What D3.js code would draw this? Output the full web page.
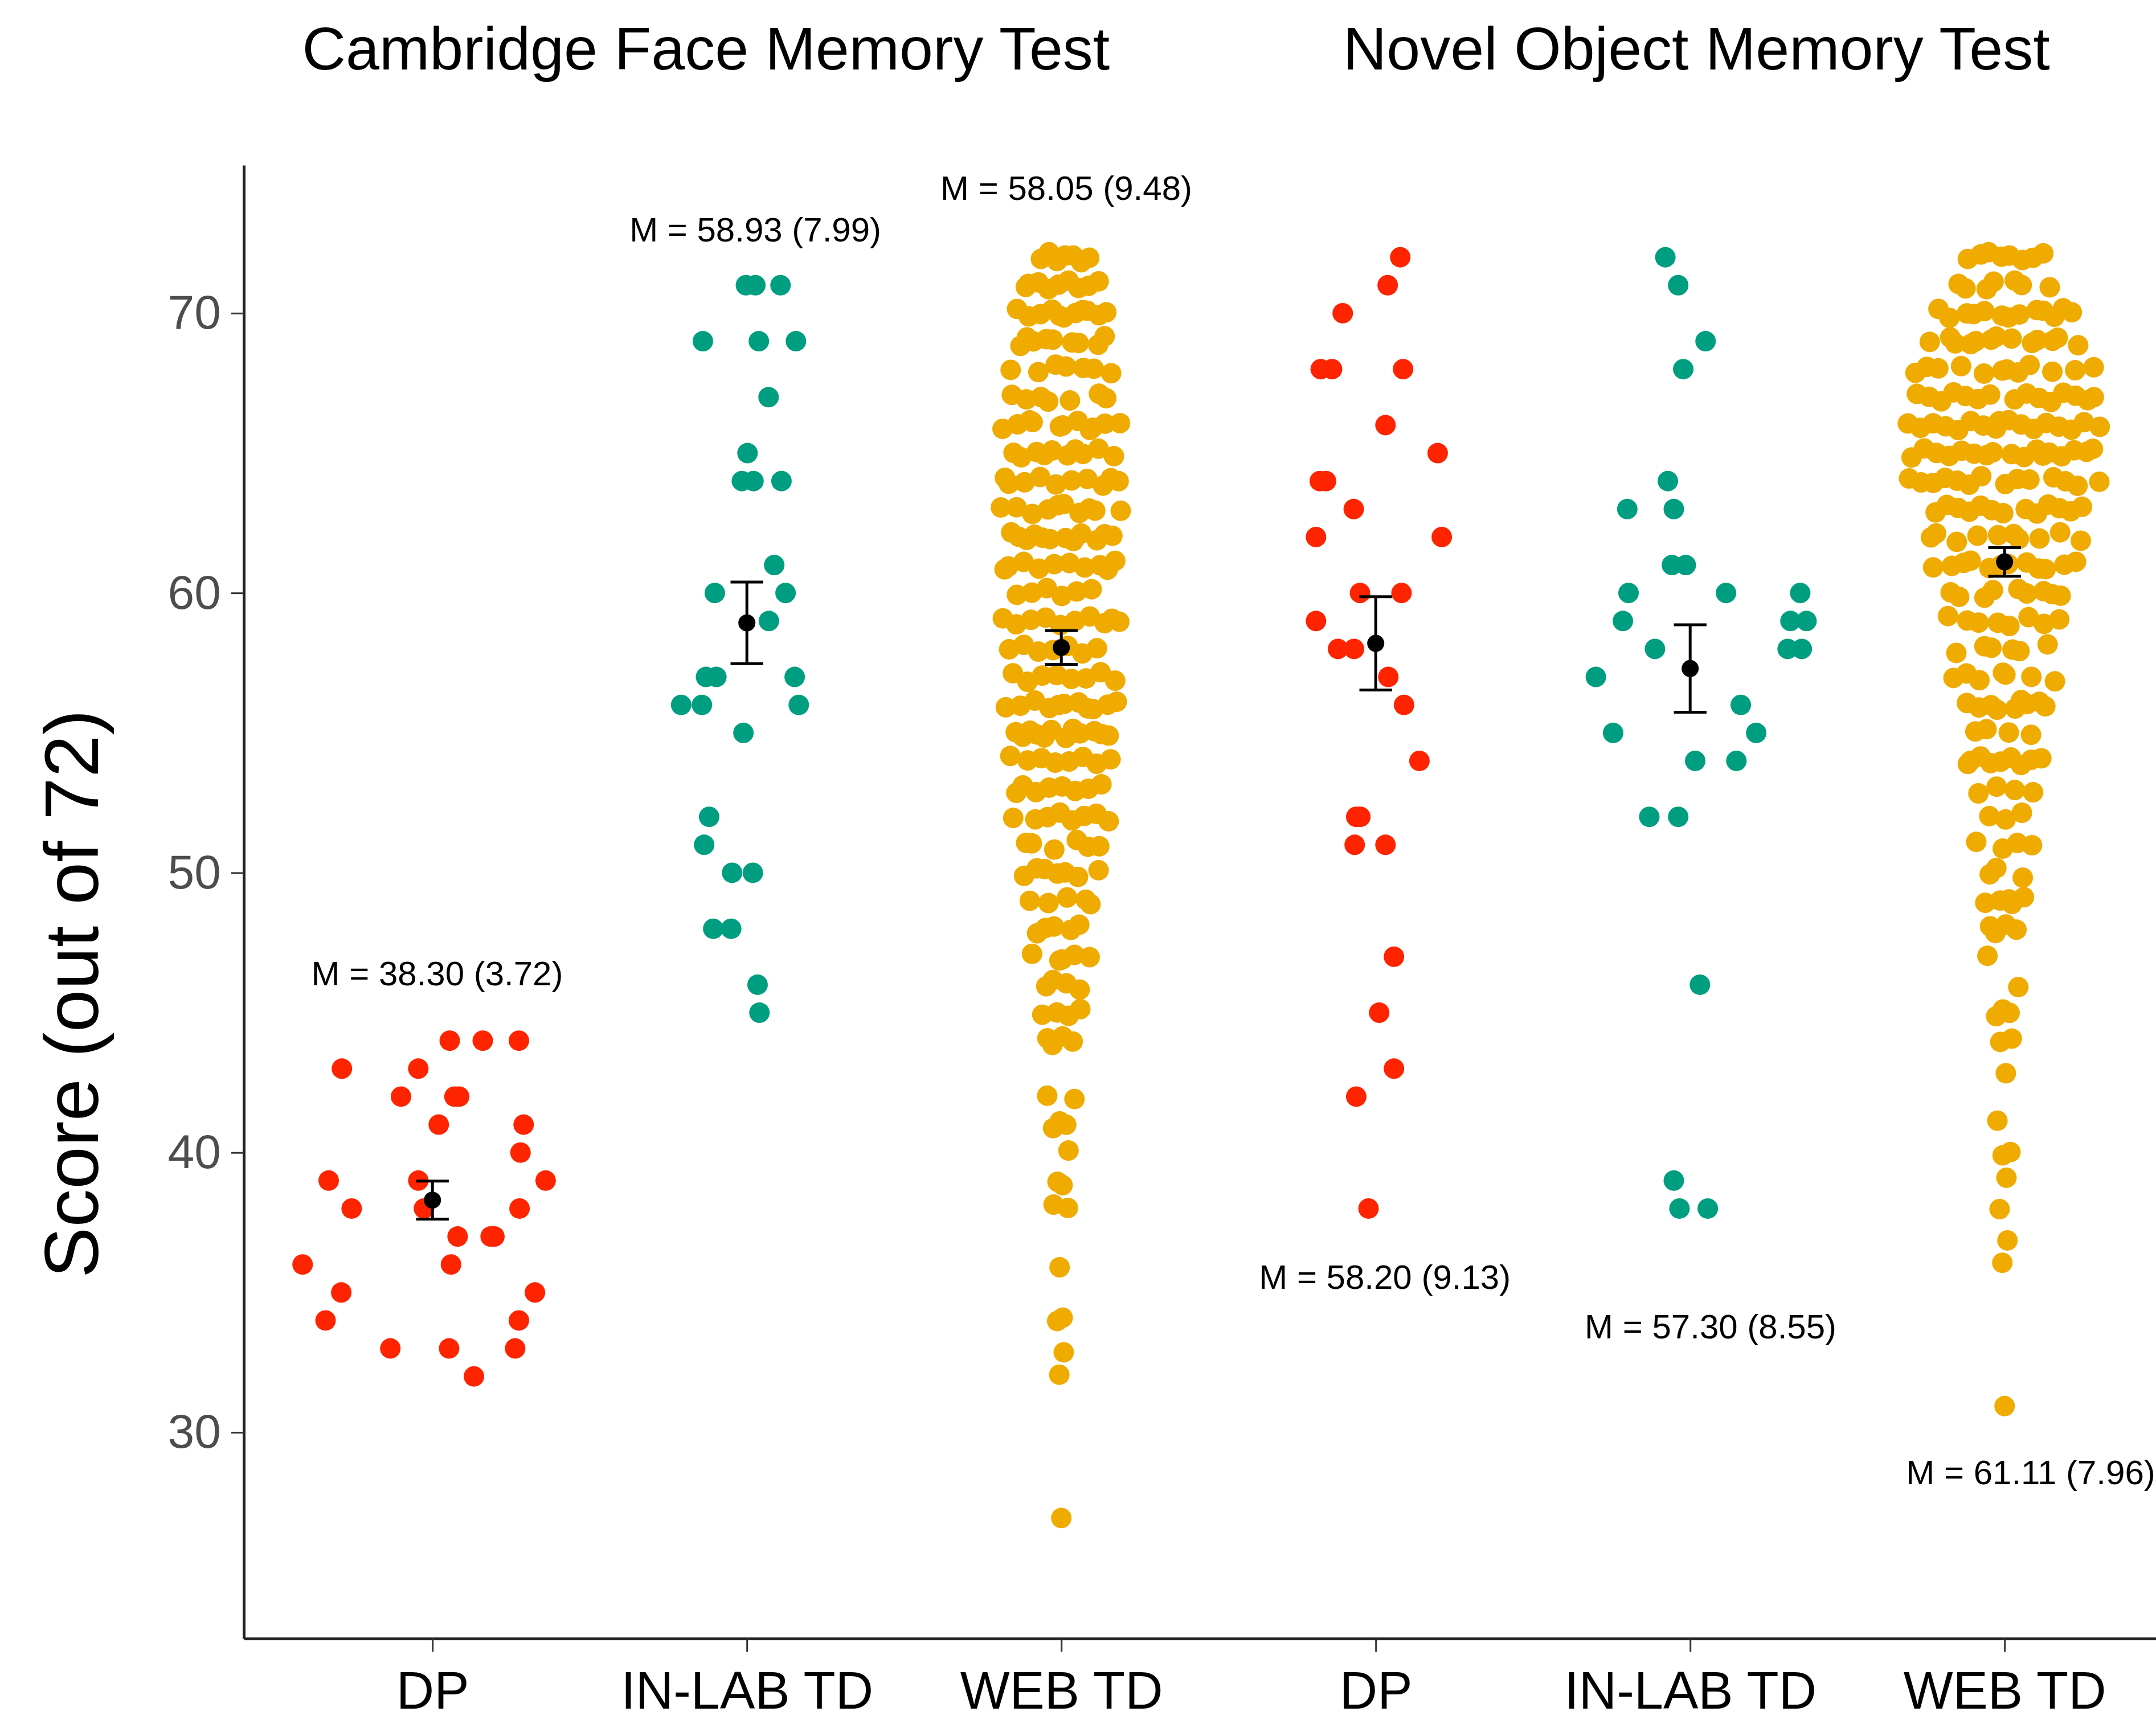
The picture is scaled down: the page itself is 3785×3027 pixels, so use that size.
<!DOCTYPE html>
<html>
<head>
<meta charset="utf-8">
<script src="https://cdn.jsdelivr.net/npm/d3@7"></script>
<style>
  body { margin: 0; background: #fff; }
  svg text { font-family: "Liberation Sans", Arial, sans-serif; }
</style>
</head>
<body>
<div id="chart"></div>
<script>
// ---- values ----

var tests = ["Cambridge Face Memory Test", "Novel Object Memory Test"];
var groups = ["DP", "IN-LAB TD", "WEB TD", "DP", "IN-LAB TD", "WEB TD"];
var means = [38.30, 58.93, 58.05, 58.20, 57.30, 61.11];
var sds = [3.72, 7.99, 9.48, 9.13, 8.55, 7.96];
var yTicks = [30, 40, 50, 60, 70];

// small groups: every participant, score and the horizontal jitter seen in the picture (in group widths)
var dpFaceScores = [44, 44, 44, 43, 43, 42, 42, 42, 41, 41, 40, 39, 39, 39, 38, 38, 38, 37, 37, 37, 36, 36, 35, 35, 34, 34, 33, 33, 33, 32];
var dpFaceJitter = [0.055, 0.16, 0.275, -0.288, -0.045, -0.10, 0.07, 0.085, 0.02, 0.29, 0.28, -0.33, -0.045, 0.36, -0.257, -0.027, 0.277, 0.08, 0.185, 0.197, 0.059, -0.413, 0.326, -0.29, 0.275, -0.34, 0.263, 0.053, -0.134, 0.132];

var labFaceScores = [71, 71, 71, 69, 69, 69, 67, 65, 64, 64, 64, 61, 60, 60, 59, 57, 57, 57, 56, 56, 56, 55, 52, 51, 50, 50, 48, 48, 46, 45];
var labFaceJitter = [-0.003, 0.027, 0.107, -0.14, 0.038, 0.156, 0.069, 0.002, -0.016, 0.021, 0.11, 0.087, -0.102, 0.123, 0.07, -0.13, -0.097, 0.152, -0.209, -0.143, 0.165, -0.011, -0.12, -0.136, -0.047, 0.019, -0.107, -0.05, 0.034, 0.04];

var dpObjScores = [72, 71, 70, 68, 68, 68, 66, 65, 64, 64, 63, 62, 62, 60, 60, 59, 58, 58, 57, 56, 54, 52, 52, 51, 51, 47, 45, 43, 42, 38];
var dpObjJitter = [0.078, 0.038, -0.105, -0.175, -0.139, 0.087, 0.031, 0.197, -0.158, -0.178, -0.07, -0.19, 0.21, -0.05, 0.082, -0.19, -0.12, -0.069, 0.04, 0.09, 0.139, -0.062, -0.049, -0.067, 0.031, 0.058, 0.011, 0.058, -0.062, -0.023];

var labObjScores = [72, 71, 69, 68, 64, 63, 63, 61, 61, 60, 60, 60, 59, 59, 59, 58, 58, 58, 57, 56, 55, 55, 54, 54, 52, 52, 46, 39, 38, 38];
var labObjJitter = [-0.079, -0.038, 0.049, -0.022, -0.071, -0.052, -0.2, -0.058, -0.014, 0.114, -0.196, 0.35, -0.214, 0.319, 0.37, -0.112, 0.31, 0.355, -0.3, 0.161, 0.21, -0.245, 0.016, 0.147, -0.13, -0.038, 0.031, -0.052, -0.034, 0.056];

// web groups: how many participants sit on each score (estimated from the dot rows)
var webFaceValues = [72, 71, 70, 69, 68, 67, 66, 65, 64, 63, 62, 61, 60, 59, 58, 57, 56, 55, 54, 53, 52, 51, 50, 49, 48, 47, 46, 45, 44, 42, 41, 40, 39, 38, 36, 34, 33, 32, 27];
var webFaceCounts = [7, 9, 11, 9, 7, 7, 11, 10, 10, 10, 12, 10, 6, 10, 7, 8, 11, 12, 8, 8, 8, 6, 7, 5, 5, 5, 4, 4, 4, 2, 3, 1, 2, 2, 1, 2, 1, 1, 1];

var webObjValues = [72, 71, 70, 69, 68, 67, 66, 65, 64, 63, 62, 61, 60, 59, 58, 57, 56, 55, 54, 53, 52, 51, 50, 49, 48, 47, 46, 45, 44, 43, 41, 40, 39, 38, 37, 36, 31];
var webObjCounts = [8, 7, 13, 13, 12, 15, 17, 17, 14, 13, 10, 12, 9, 8, 6, 7, 9, 4, 9, 4, 3, 4, 3, 5, 4, 1, 1, 3, 2, 1, 1, 2, 1, 1, 1, 1, 1];

// ---- layout ----

var width = 3785,
    height = 3027,
    plotLeft = 428,
    plotBottom = 2877,
    plotTop = 290,
    dotR = 18;

// where the M = ... notes sit: [shift from group centre, score level]
var notePos = [[0.015, 45.97], [0.027, 72.57], [0.016, 74.05], [0.029, 35.13], [0.065, 33.36], [0.083, 28.15]];
var titleX = [1.87, 5.02];
var webWidth = [0.2, 0.32];
var webLift = 0.18;   // small vertical spread inside a score row, as in the original

var y = d3.scaleLinear().domain([22.63, 75.29]).range([plotBottom, plotTop]);
// discrete positions 1..6 with ggplot-like 0.6 expansion, right end runs off the page
var x = d3.scaleLinear().domain([0.4, 6.6]).range([plotLeft, plotLeft + 6.2 * 552]);

var color = d3.scaleOrdinal()
  .domain(["DP", "IN-LAB TD", "WEB TD"])
  .range(["#ff2400", "#009e80", "#efab00"]);

function zipGroup(scores, jitter) {
  return scores.map(function(s, i) { return {score: s, dx: jitter[i], dy: 0}; });
}

function expand(values, counts) {
  var out = [];
  values.forEach(function(v, i) {
    for (var k = 0; k < counts[i]; k++) out.push(v);
  });
  return out;
}

// van der Corput sequence
function vdc(n, base) {
  var q = 0, b = 1 / base;
  while (n > 0) { q += (n % base) * b; n = Math.floor(n / base); b /= base; }
  return q;
}

// quasirandom spread like ggbeeswarm: offset scaled by the kernel density at each score
function quasi(scores, w) {
  var s = scores.slice().sort(d3.ascending);
  var n = s.length;
  var iqr = d3.quantile(s, 0.75) - d3.quantile(s, 0.25);
  var bw = 0.9 * Math.min(d3.deviation(s), iqr / 1.34) * Math.pow(n, -0.2);
  var dens = s.map(function(v) {
    return d3.sum(s, function(u) { var z = (v - u) / bw; return Math.exp(-0.5 * z * z); });
  });
  var mx = d3.max(dens);
  return s.map(function(v, i) {
    return {
      score: v,
      dx: (vdc(i + 1, 2) - 0.5) * 2 * w * dens[i] / mx,
      dy: (vdc(i + 1, 3) - 0.5) * 2 * webLift
    };
  });
}

var groupData = [
  zipGroup(dpFaceScores, dpFaceJitter),
  zipGroup(labFaceScores, labFaceJitter),
  quasi(expand(webFaceValues, webFaceCounts), webWidth[0]),
  zipGroup(dpObjScores, dpObjJitter),
  zipGroup(labObjScores, labObjJitter),
  quasi(expand(webObjValues, webObjCounts), webWidth[1])
];

var svg = d3.select("#chart").append("svg")
  .attr("width", width)
  .attr("height", height);

svg.append("rect").attr("width", width).attr("height", height).attr("fill", "#fff");

// dots
groupData.forEach(function(g, gi) {
  svg.append("g")
    .selectAll("circle")
    .data(g)
    .join("circle")
    .attr("cx", function(d) { return x(gi + 1 + d.dx); })
    .attr("cy", function(d) { return y(d.score + d.dy); })
    .attr("r", dotR)
    .attr("fill", color(groups[gi]));
});

// mean +/- SE
var stats = means.map(function(m, i) {
  return {i: i + 1, m: m, se: sds[i] / Math.sqrt(groupData[i].length)};
});

var capHalf = 0.052;
var bars = svg.append("g").attr("stroke", "#000").attr("stroke-width", 5);

bars.selectAll("line.v").data(stats).join("line").attr("class", "v")
  .attr("x1", function(d) { return x(d.i); })
  .attr("x2", function(d) { return x(d.i); })
  .attr("y1", function(d) { return y(d.m - d.se); })
  .attr("y2", function(d) { return y(d.m + d.se); });

[-1, 1].forEach(function(sign) {
  var cls = sign > 0 ? "ct" : "cb";
  bars.selectAll("line." + cls).data(stats).join("line")
    .attr("class", cls)
    .attr("x1", function(d) { return x(d.i - capHalf); })
    .attr("x2", function(d) { return x(d.i + capHalf); })
    .attr("y1", function(d) { return y(d.m + sign * d.se); })
    .attr("y2", function(d) { return y(d.m + sign * d.se); });
});

svg.append("g").selectAll("circle").data(stats).join("circle")
  .attr("cx", function(d) { return x(d.i); })
  .attr("cy", function(d) { return y(d.m); })
  .attr("r", 15)
  .attr("fill", "#000");

// M = mean (sd) notes
svg.append("g").selectAll("text").data(stats).join("text")
  .attr("x", function(d) { return x(d.i + notePos[d.i - 1][0]); })
  .attr("y", function(d) { return y(notePos[d.i - 1][1]); })
  .attr("text-anchor", "middle")
  .attr("font-size", 60)
  .attr("fill", "#000")
  .text(function(d) { return "M = " + d.m.toFixed(2) + " (" + sds[d.i - 1].toFixed(2) + ")"; });

// axes
var yAxis = svg.append("g")
  .attr("transform", "translate(" + plotLeft + ",0)")
  .call(d3.axisLeft(y).tickValues(yTicks).tickSize(22).tickPadding(18).tickSizeOuter(0));
yAxis.attr("font-family", null).attr("font-size", 84);
yAxis.select(".domain").attr("stroke", "#222").attr("stroke-width", 5);
yAxis.selectAll(".tick line").attr("stroke", "#333").attr("stroke-width", 3);
yAxis.selectAll(".tick text").attr("fill", "#4d4d4d");

var xAxis = svg.append("g")
  .attr("transform", "translate(0," + plotBottom + ")")
  .call(d3.axisBottom(x).tickValues([1, 2, 3, 4, 5, 6])
    .tickFormat(function(d) { return groups[d - 1]; })
    .tickSize(23).tickPadding(35).tickSizeOuter(0));
xAxis.attr("font-family", null).attr("font-size", 92);
xAxis.select(".domain").attr("stroke", "#222").attr("stroke-width", 5);
xAxis.selectAll(".tick line").attr("stroke", "#333").attr("stroke-width", 3);
xAxis.selectAll(".tick text").attr("fill", "#000");

// axis title
svg.append("text")
  .attr("transform", "translate(172,1745) rotate(-90)")
  .attr("text-anchor", "middle")
  .attr("font-size", 134)
  .attr("fill", "#000")
  .text("Score (out of 72)");

// test titles
svg.append("g").selectAll("text").data(tests).join("text")
  .attr("x", function(d, i) { return x(titleX[i]); })
  .attr("y", 122)
  .attr("text-anchor", "middle")
  .attr("font-size", 106)
  .attr("fill", "#000")
  .text(function(d) { return d; });
</script>
</body>
</html>
